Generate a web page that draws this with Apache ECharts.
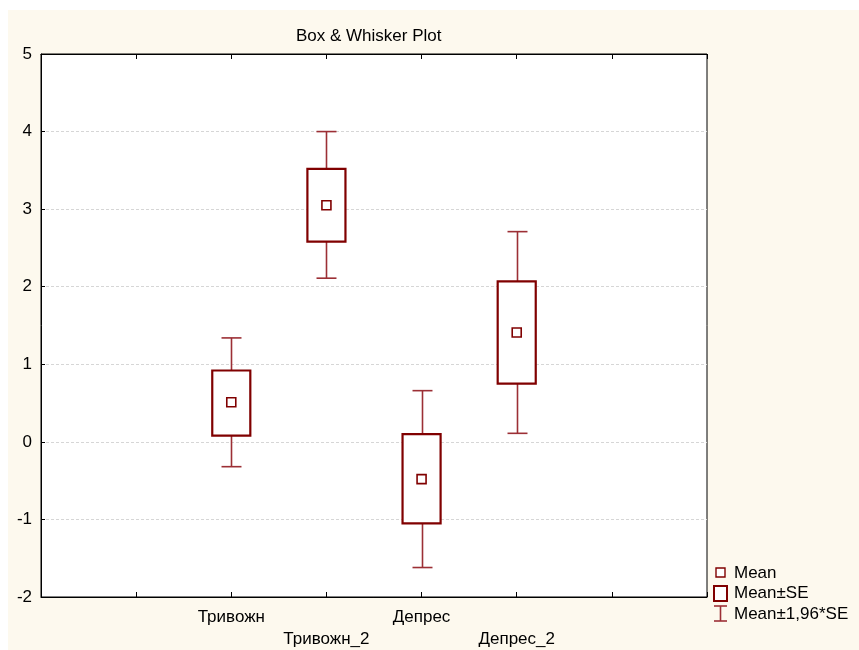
<!DOCTYPE html>
<html>
<head>
<meta charset="utf-8">
<script src="https://cdn.jsdelivr.net/npm/echarts@6/dist/echarts.min.js"></script>
<style>
  html, body { margin: 0; padding: 0; background: #ffffff; }
  #wrap { position: relative; width: 859px; height: 650px; }
  #cream { position: absolute; left: 8px; top: 10px; width: 851px; height: 640px; background: #fdf9ee; }
  #chart { position: absolute; left: 0; top: 0; width: 859px; height: 650px; }
</style>
</head>
<body>
<div id="wrap"><div id="cream"></div><div id="chart"></div></div>
<script>
// ---- data ----
const categories = ['Тривожн', 'Тривожн_2', 'Депрес', 'Депрес_2'];
const means  = [0.51, 3.05, -0.48, 1.41];
const seLow  = [0.08, 2.58, -1.05, 0.75];
const seHigh = [0.92, 3.52, 0.10, 2.07];
const ciLow  = [-0.32, 2.11, -1.62, 0.11];
const ciHigh = [1.34, 4.00, 0.66, 2.71];
const yTicks = [-2, -1, 0, 1, 2, 3, 4, 5];
const titleText = 'Box & Whisker Plot';
const legendNames = ['Mean', 'Mean±SE', 'Mean±1,96*SE'];

// axis slots: two empty slots before, two after (category axis without boundary gap)
const slots = ['', ''].concat(categories, ['', '']);

const dark = '#800000';
const whisk = '#9c2f35';
const font = 'Liberation Sans, Arial, sans-serif';
const fs = 17;

const chart = echarts.init(document.getElementById('chart'), null, { renderer: 'canvas' });

const boxData = categories.map((c, i) => [c, seLow[i], seHigh[i]]);
const whiskerData = categories.map((c, i) => [c, ciLow[i], seLow[i], seHigh[i], ciHigh[i]]);
const meanData = categories.map((c, i) => [c, means[i]]);

const option = {
  backgroundColor: 'transparent',
  animation: false,
  textStyle: { fontFamily: font },
  title: {
    text: titleText,
    left: 291, top: 23,
    textStyle: { fontFamily: font, fontSize: fs, fontWeight: 'normal', color: '#000' }
  },
  grid: {
    left: 41, right: 152, top: 54, bottom: 53,
    show: true, backgroundColor: '#ffffff', borderColor: '#000', borderWidth: 1
  },
  xAxis: [{
    type: 'category', data: slots, boundaryGap: false, position: 'bottom',
    axisLine: { show: true, onZero: false, lineStyle: { color: '#000', width: 1 } },
    axisTick: { show: true, inside: true, length: 5, lineStyle: { color: '#000' } },
    splitLine: { show: false },
    axisLabel: {
      interval: 0, margin: 9, fontSize: fs, color: '#000', fontFamily: font, lineHeight: 22,
      formatter: function (v) {
        const i = categories.indexOf(v);
        if (i < 0) return '';
        return i % 2 === 1 ? '\n' + v : v;
      }
    }
  }, {
    type: 'category', data: slots, boundaryGap: false, position: 'top',
    axisLine: { show: true, onZero: false, lineStyle: { color: '#000', width: 1 } },
    axisTick: { show: true, inside: true, length: 5, lineStyle: { color: '#000' } },
    axisLabel: { show: false }, splitLine: { show: false }
  }],
  yAxis: {
    type: 'value', min: yTicks[0], max: yTicks[yTicks.length - 1], interval: 1,
    axisLine: { show: true, onZero: false, lineStyle: { color: '#000', width: 1 } },
    axisTick: { show: true, inside: true, length: 4, lineStyle: { color: '#000' } },
    axisLabel: { fontSize: fs, color: '#000', margin: 9, fontFamily: font },
    splitLine: { show: true, lineStyle: { color: '#d6d6d6', type: [3, 2], width: 1 } }
  },
  series: [{
    name: legendNames[2],
    type: 'custom',
    z: 3,
    data: whiskerData,
    encode: { x: 0, y: [1, 2, 3, 4] },
    renderItem: function (params, api) {
      const xi = api.value(0);
      const pLo = api.coord([xi, api.value(1)]);
      const pBl = api.coord([xi, api.value(2)]);
      const pBh = api.coord([xi, api.value(3)]);
      const pHi = api.coord([xi, api.value(4)]);
      const cap = api.size([1, 0])[0] * 0.21;
      const x = Math.round(pLo[0]) + 0.5;
      const style = { stroke: whisk, lineWidth: 1.6 };
      return {
        type: 'group',
        children: [
          { type: 'line', shape: { x1: x, y1: pLo[1], x2: x, y2: pBl[1] }, style: style },
          { type: 'line', shape: { x1: x, y1: pBh[1], x2: x, y2: pHi[1] }, style: style },
          { type: 'line', shape: { x1: x - cap / 2, y1: pLo[1], x2: x + cap / 2, y2: pLo[1] }, style: style },
          { type: 'line', shape: { x1: x - cap / 2, y1: pHi[1], x2: x + cap / 2, y2: pHi[1] }, style: style }
        ]
      };
    }
  }, {
    name: legendNames[1],
    type: 'custom',
    z: 4,
    data: boxData,
    encode: { x: 0, y: [1, 2] },
    renderItem: function (params, api) {
      const xi = api.value(0);
      const pLo = api.coord([xi, api.value(1)]);
      const pHi = api.coord([xi, api.value(2)]);
      const w = api.size([1, 0])[0] * 0.4;
      return {
        type: 'rect',
        shape: { x: pLo[0] - w / 2, y: pHi[1], width: w, height: pLo[1] - pHi[1] },
        style: { fill: '#ffffff', stroke: dark, lineWidth: 2.2 }
      };
    }
  }, {
    name: legendNames[0],
    type: 'scatter',
    z: 5,
    data: meanData,
    symbol: 'rect',
    symbolSize: 9,
    itemStyle: { color: '#ffffff', borderColor: dark, borderWidth: 1.6, opacity: 1 }
  }],
  graphic: [
    { type: 'rect', shape: { x: 716, y: 568, width: 9, height: 9 }, style: { fill: '#fff', stroke: dark, lineWidth: 1.4 } },
    { type: 'rect', shape: { x: 714, y: 586, width: 13, height: 15 }, style: { fill: '#fff', stroke: dark, lineWidth: 2 } },
    { type: 'line', shape: { x1: 720.5, y1: 606, x2: 720.5, y2: 621 }, style: { stroke: whisk, lineWidth: 1.6 } },
    { type: 'line', shape: { x1: 714, y1: 606, x2: 727, y2: 606 }, style: { stroke: whisk, lineWidth: 1.6 } },
    { type: 'line', shape: { x1: 714, y1: 621, x2: 727, y2: 621 }, style: { stroke: whisk, lineWidth: 1.6 } },
    { type: 'text', x: 734, y: 573, style: { text: legendNames[0], fontSize: fs, fontFamily: font, fill: '#000', verticalAlign: 'middle' } },
    { type: 'text', x: 734, y: 593, style: { text: legendNames[1], fontSize: fs, fontFamily: font, fill: '#000', verticalAlign: 'middle' } },
    { type: 'text', x: 734, y: 614, style: { text: legendNames[2], fontSize: fs, fontFamily: font, fill: '#000', verticalAlign: 'middle' } }
  ]
};

chart.setOption(option);
</script>
</body>
</html>
